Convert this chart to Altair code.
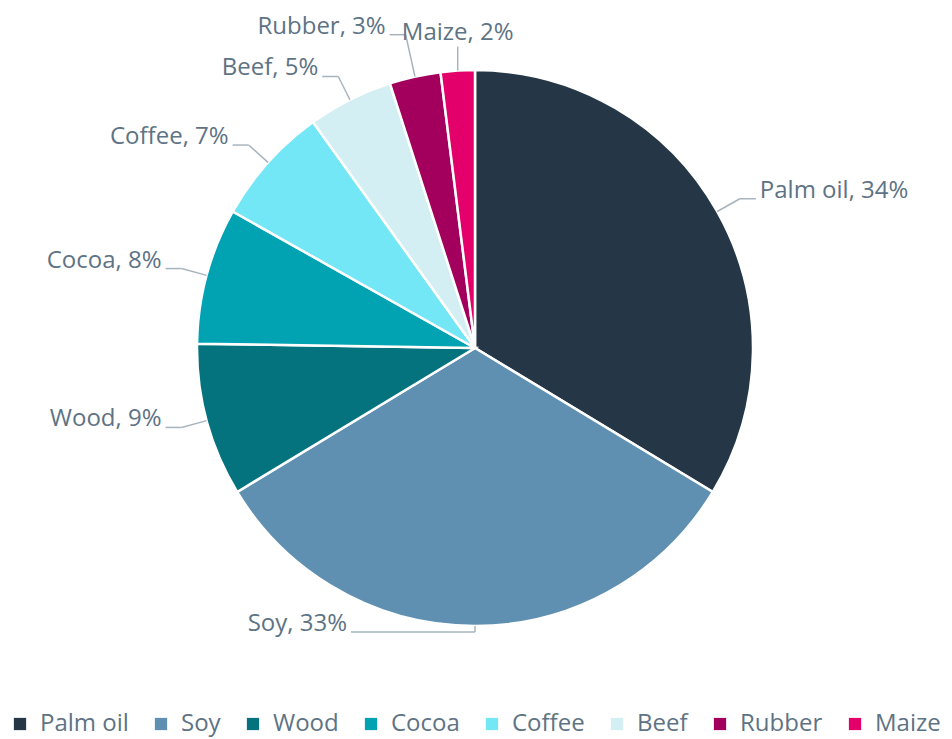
import altair as alt
import pandas as pd

categories = ["Palm oil", "Soy", "Wood", "Cocoa", "Coffee", "Beef", "Rubber", "Maize"]
shares = [34, 33, 9, 8, 7, 5, 3, 2]
palette = ["#253746", "#5F90B1", "#05737E", "#01A3B2", "#74E7F6", "#D3EFF3", "#A3005E", "#E4006A"]

df = pd.DataFrame({"cat": categories, "share": shares, "idx": list(range(len(categories)))})

W, H = 936, 731
CX, CY, R = 467, 340, 278
L, HS = 26, 16
FONT = "Open Sans"
FS = 24
TXT = "#5E7384"
LINE = "#A7B4BE"

xs = alt.Scale(domain=[0, W], range=[0, W], nice=False, zero=False)
ys = alt.Scale(domain=[0, H], range=[0, H], nice=False, zero=False)

base = (
    alt.Chart(df)
    .transform_joinaggregate(total="sum(share)")
    .transform_window(cum="sum(share)", sort=[alt.SortField("idx")], frame=[None, 0])
    .transform_calculate(mid="(datum.cum - datum.share/2)/datum.total*2*PI")
    .transform_calculate(
        kind="abs(sin(datum.mid)) < 0.1 ? (cos(datum.mid) > 0 ? 'top' : 'bottom') : (sin(datum.mid) > 0 ? 'right' : 'left')",
        sx=f"{CX} + {R}*sin(datum.mid)",
        sy=f"{CY} - {R}*cos(datum.mid)",
        rl=f"{R + L} + 32*max(0, cos(datum.mid) - 0.95)/0.05",
    )
    .transform_calculate(
        ex=f"datum.kind == 'top' || datum.kind == 'bottom' ? datum.sx : {CX} + datum.rl*sin(datum.mid)",
        ey=f"datum.kind == 'top' ? datum.sy - 24 : datum.kind == 'bottom' ? datum.sy + 6 : {CY} - datum.rl*cos(datum.mid)",
    )
    .transform_calculate(
        hx=f"datum.kind == 'right' ? datum.ex + {HS} : datum.kind == 'left' ? datum.ex - {HS} : datum.kind == 'bottom' ? datum.ex - 124 : datum.ex",
    )
    .transform_calculate(
        tx="datum.kind == 'right' ? datum.hx + 4 : datum.kind == 'top' ? datum.hx : datum.hx - 4",
        label="datum.cat + ', ' + datum.share + '%'",
    )
)

arcs = alt.Chart(df).mark_arc(outerRadius=R, stroke="white", strokeWidth=2.5).encode(
    theta=alt.Theta("share:Q", stack=True),
    order=alt.Order("idx:Q"),
    color=alt.Color(
        "cat:N",
        scale=alt.Scale(domain=categories, range=palette),
        legend=alt.Legend(
            title=None,
            orient="none",
            legendX=0,
            legendY=704,
            direction="horizontal",
            columns=8,
            symbolType="square",
            symbolSize=150,
            symbolStrokeWidth=0,
            labelFont=FONT,
            labelFontSize=FS,
            labelColor=TXT,
            labelOffset=8,
            columnPadding=20,
        ),
    ),
    x=alt.value(CX),
    y=alt.value(CY),
)

lead1 = base.mark_rule(color=LINE, strokeWidth=1.5).encode(
    x=alt.X("sx:Q", scale=xs, axis=None),
    y=alt.Y("sy:Q", scale=ys, axis=None),
    x2="ex:Q",
    y2="ey:Q",
)
lead2 = base.mark_rule(color=LINE, strokeWidth=1.5).encode(
    x=alt.X("ex:Q", scale=xs, axis=None),
    y=alt.Y("ey:Q", scale=ys, axis=None),
    x2="hx:Q",
)


def text_layer(kind, align, baseline, dy):
    return base.transform_filter(f"datum.kind == '{kind}'").mark_text(
        align=align, baseline=baseline, dy=dy, font=FONT, fontSize=FS, color=TXT
    ).encode(
        x=alt.X("tx:Q", scale=xs, axis=None),
        y=alt.Y("ey:Q", scale=ys, axis=None),
        text="label:N",
    )


chart = (
    alt.layer(
        arcs,
        lead1,
        lead2,
        text_layer("right", "left", "middle", -8),
        text_layer("left", "right", "middle", -8),
        text_layer("bottom", "right", "middle", -8),
        text_layer("top", "center", "bottom", -2),
    )
    .properties(width=W, height=H, autosize=alt.AutoSizeParams(type="none"), padding=0)
    .configure_view(stroke=None)
)

chart.save("out.html", embed_options={"renderer": "svg", "actions": False})
